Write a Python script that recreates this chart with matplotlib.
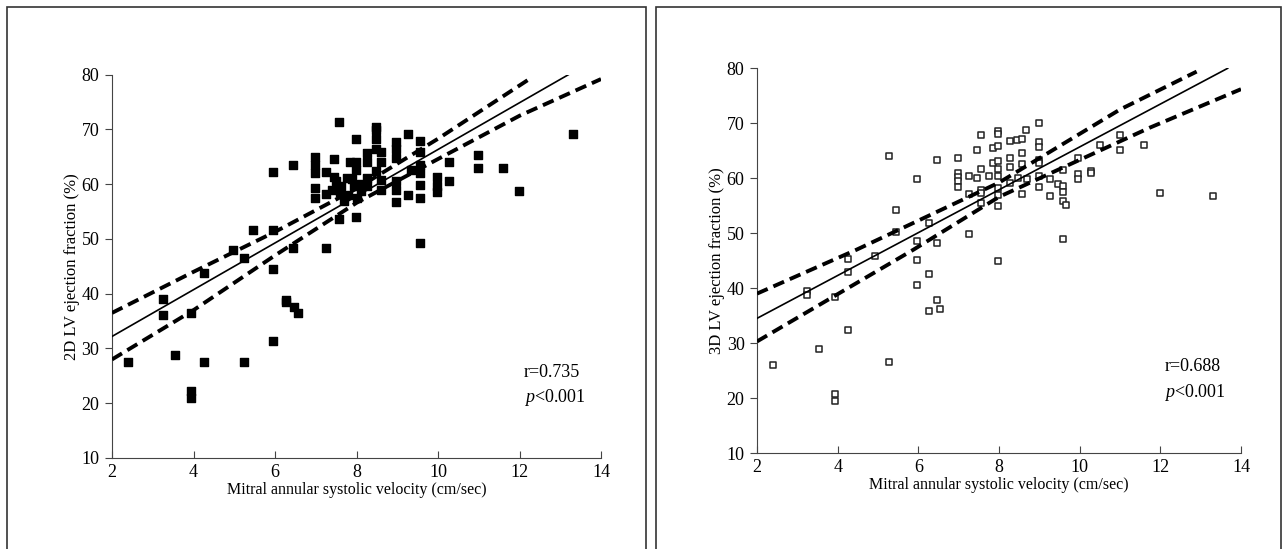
import matplotlib.pyplot as plt
from matplotlib.patches import Rectangle

plt.rcParams['font.family'] = ['Liberation Serif', 'DejaVu Serif']
plt.rcParams['mathtext.fontset'] = 'custom'
plt.rcParams['mathtext.it'] = 'Liberation Serif:italic'
plt.rcParams['mathtext.rm'] = 'Liberation Serif'

# left panel: 2D LV EF vs mitral annular systolic velocity
sm_2d = [2.40, 3.24, 3.24, 3.55, 3.94, 3.94, 3.94, 4.25, 4.25, 4.96, 5.25, 5.25,
         5.45, 5.95, 5.95, 5.95, 5.95, 6.27, 6.27, 6.46, 6.56, 6.45, 6.45, 6.97,
         6.97, 6.97, 6.97, 6.97, 7.25, 7.25, 7.25, 7.46, 7.46, 7.56, 7.56, 7.61,
         7.77, 7.85, 7.99, 7.99, 7.99, 7.93, 7.99, 8.26, 8.26, 8.26, 8.26, 8.47,
         8.47, 8.47, 8.47, 8.47, 8.59, 8.59, 8.59, 8.59, 8.97, 8.97, 8.97, 8.97,
         8.97, 8.97, 9.27, 9.27, 9.33, 9.57, 9.57, 9.57, 9.57, 9.57, 9.57, 9.57,
         9.98, 9.98, 9.98, 10.27, 10.27, 10.99, 10.99, 11.60, 11.99, 13.32,
         7.60, 7.70, 7.80, 8.00, 7.50, 8.10, 7.90, 8.10, 7.40]
ef_2d = [27.6, 39.0, 36.1, 28.8, 36.4, 22.3, 20.9, 43.8, 27.6, 48.0, 46.6, 27.6,
         51.6, 51.6, 44.5, 31.4, 62.3, 38.9, 38.4, 37.5, 36.4, 48.4, 63.6, 65.0,
         63.6, 62.0, 59.3, 57.4, 62.3, 58.3, 48.4, 64.6, 61.4, 71.3, 53.6, 59.6,
         61.1, 64.1, 68.3, 64.1, 62.6, 59.6, 54.0, 65.7, 64.1, 61.1, 59.6, 70.5,
         69.9, 68.3, 66.5, 62.5, 65.9, 64.1, 60.8, 59.0, 67.8, 66.5, 64.8, 60.5,
         59.0, 56.8, 69.1, 58.0, 62.6, 67.9, 65.9, 63.5, 62.0, 59.9, 57.4, 49.2,
         61.4, 59.6, 58.6, 64.1, 60.5, 65.3, 63.0, 63.0, 58.8, 69.2,
         58.5, 57.0, 58.0, 57.5, 60.5, 60.0, 61.0, 58.8, 59.0]

fit_2d_x = [2.0, 13.2]
fit_2d_y = [32.2, 80.0]
up_2d_x = [2.0, 4.0, 6.0, 8.0, 10.0, 12.2]
up_2d_y = [36.5, 44.0, 51.3, 59.2, 68.3, 79.0]
lo_2d_x = [2.0, 4.0, 6.0, 8.0, 10.0, 12.0, 14.0]
lo_2d_y = [28.0, 37.0, 47.0, 56.6, 64.6, 72.5, 79.2]

# right panel: 3D LV EF
sm_3d = [2.40, 3.23, 3.23, 3.54, 3.93, 3.93, 3.93, 4.25, 4.25, 4.25, 4.93, 5.27,
         5.96, 5.96, 6.27, 6.46, 6.54, 6.27, 7.98, 5.27, 5.96, 6.46, 6.98, 6.98,
         6.98, 6.98, 6.98, 7.55, 7.46, 7.86, 7.98, 7.98, 7.98, 8.27, 8.44, 7.55,
         7.26, 7.46, 7.74, 7.86, 7.98, 7.98, 7.98, 8.27, 8.27, 7.26, 7.55, 7.55,
         7.98, 7.98, 7.55, 7.26, 6.46, 5.96, 6.27, 5.45, 5.45, 8.98, 8.67, 8.56,
         8.98, 8.98, 8.56, 8.56, 8.98, 8.98, 9.97, 9.58, 9.97, 9.97, 10.27, 10.27,
         10.50, 11.00, 11.00, 11.60, 11.99, 13.31, 9.26, 9.26, 8.98, 8.56, 9.47,
         9.58, 9.58, 9.58, 9.66, 9.58, 8.27, 8.48, 8.69, 7.98, 8.98]
ef_3d = [26.0, 39.4, 38.8, 29.0, 38.3, 20.8, 19.5, 45.3, 43.0, 32.4, 45.8, 26.6,
         45.2, 40.6, 42.6, 37.9, 36.2, 35.9, 44.9, 64.0, 59.9, 63.3, 63.7, 61.0,
         60.3, 59.5, 58.4, 67.8, 65.1, 65.5, 65.8, 68.6, 68.1, 66.7, 66.9, 61.6,
         60.4, 60.1, 60.4, 62.8, 63.1, 61.6, 60.4, 63.7, 62.1, 57.2, 57.9, 57.3,
         58.3, 54.9, 55.4, 49.9, 48.2, 48.5, 51.9, 54.3, 50.3, 70.1, 68.7, 67.2,
         66.6, 65.6, 64.5, 62.5, 63.4, 62.8, 63.6, 61.5, 60.8, 59.9, 61.3, 60.9,
         66.1, 67.8, 65.1, 66.0, 57.3, 56.7, 59.9, 56.7, 58.4, 57.2, 59.0,
         58.5, 57.5, 55.8, 55.2, 49.0, 59.2, 60.1, 59.8, 57.0, 60.4]

fit_3d_x = [2.0, 13.67]
fit_3d_y = [34.5, 80.0]
up_3d_x = [2.0, 4.47, 8.0, 11.0, 12.9]
up_3d_y = [39.0, 47.0, 59.2, 72.5, 79.4]
lo_3d_x = [2.0, 5.88, 8.0, 11.74, 14.0]
lo_3d_y = [30.3, 47.0, 56.6, 69.2, 76.2]

x_ticks = [2, 4, 6, 8, 10, 12, 14]
y_ticks = [10, 20, 30, 40, 50, 60, 70, 80]

fig = plt.figure(figsize=(12.87, 5.49), dpi=100)

# panel frames
for x0, w in [(7, 639), (656, 625)]:
    fig.patches.append(Rectangle((x0 / 1287, -0.01), w / 1287, 1.01 - 7 / 549,
                                 transform=fig.transFigure, fill=False,
                                 edgecolor='#333333', linewidth=1.2))

ax1 = fig.add_axes([112 / 1287, 91 / 549, 489 / 1287, 383.3 / 549])
ax2 = fig.add_axes([757 / 1287, 96 / 549, 484 / 1287, 384.7 / 549])

panels = [
    (ax1, sm_2d, ef_2d, fit_2d_x, fit_2d_y, up_2d_x, up_2d_y, lo_2d_x, lo_2d_y,
     '2D LV ejection fraction (%)', 'r=0.735', True),
    (ax2, sm_3d, ef_3d, fit_3d_x, fit_3d_y, up_3d_x, up_3d_y, lo_3d_x, lo_3d_y,
     '3D LV ejection fraction (%)', 'r=0.688', False),
]

for ax, xs, ys, fx, fy, ux, uy, lx, ly, ylab, rtxt, filled in panels:
    if filled:
        ax.scatter(xs, ys, marker='s', s=26, color='black', zorder=3)
    else:
        ax.scatter(xs, ys, marker='s', s=20, facecolor='white',
                   edgecolor='#222222', linewidth=1.1, zorder=3)
    ax.plot(fx, fy, color='black', linewidth=1.2, zorder=4)
    ax.plot(ux, uy, color='black', linewidth=2.8, linestyle=(0, (3, 1.6)), zorder=4)
    ax.plot(lx, ly, color='black', linewidth=2.8, linestyle=(0, (3, 1.6)), zorder=4)

    ax.set_xlim(2, 14)
    ax.set_ylim(10, 80)
    ax.set_xticks(x_ticks)
    ax.set_yticks(y_ticks)
    ax.spines['top'].set_visible(False)
    ax.spines['right'].set_visible(False)
    ax.spines['left'].set_color('#444444')
    ax.spines['bottom'].set_color('#444444')
    ax.tick_params(axis='x', direction='in', length=5, labelsize=13, pad=4, color='#444444')
    ax.tick_params(axis='y', direction='out', length=5, labelsize=13, pad=4, color='#444444')
    ax.set_xlabel('Mitral annular systolic velocity (cm/sec)', fontsize=11.5, labelpad=1)
    ax.set_ylabel(ylab, fontsize=12, labelpad=1)
    ax.patch.set_alpha(0)

    ax.text(12.1, 25.7, rtxt, fontsize=13, va='center', ha='left')
    ax.text(12.1, 21.0, '$p$<0.001', fontsize=13, va='center', ha='left')

fig.savefig('out.png', dpi=100)
